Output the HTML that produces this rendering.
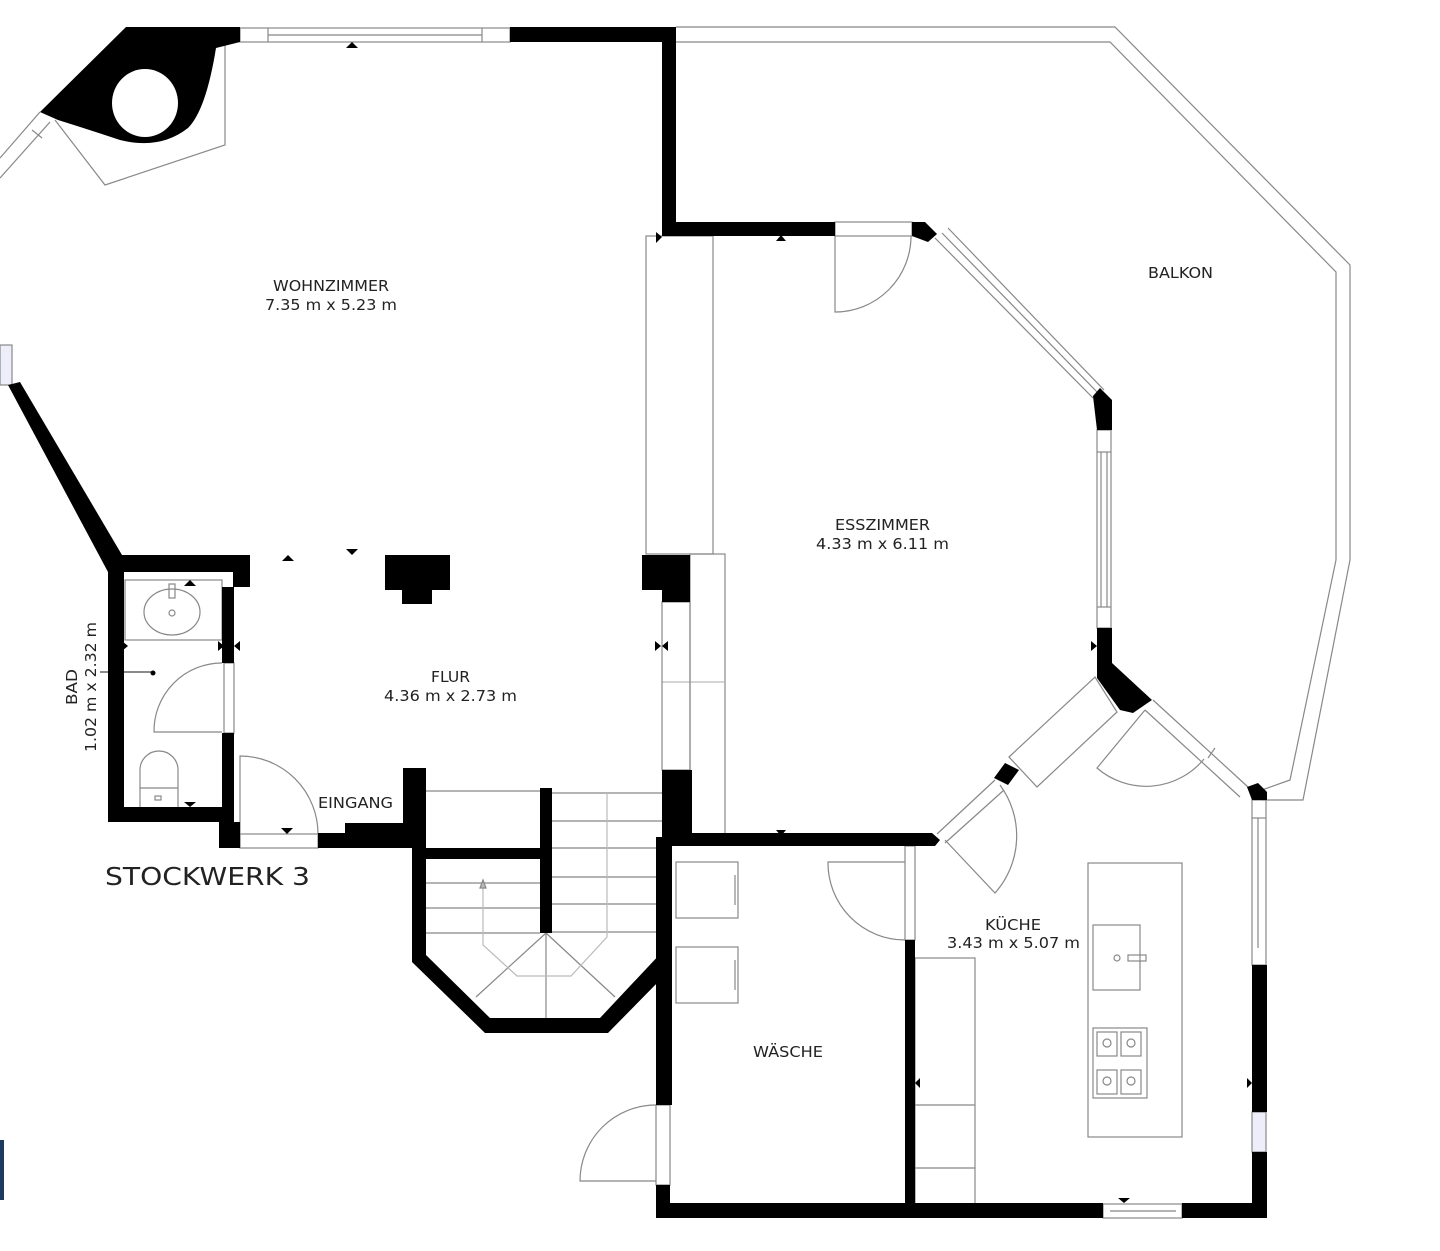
<!DOCTYPE html>
<html><head><meta charset="utf-8"><style>
html,body{margin:0;padding:0;background:#fff;}
svg{display:block;}
text{font-family:"DejaVu Sans","Liberation Sans",sans-serif;fill:#222;}
</style></head><body>
<svg width="1440" height="1251" viewBox="0 0 1440 1251" xmlns="http://www.w3.org/2000/svg">
<rect width="1440" height="1251" fill="#fff"/>
<g fill="none" stroke="#888" stroke-width="1.2">
  <polyline points="676,27 1115,27 1350,265 1350,560 1303,800 1262,800"/>
  <polyline points="676,42 1110,42 1336,272 1336,560 1290,780 1262,790"/>
  <rect x="240" y="28" width="270" height="14"/>
  <line x1="268" y1="28" x2="268" y2="42"/><line x1="482" y1="28" x2="482" y2="42"/>
  <line x1="268" y1="35" x2="482" y2="35"/>
  <polyline points="55,120 105,185 225,145 225,42"/>
  <line x1="40" y1="112" x2="0" y2="158"/><line x1="50" y1="122" x2="0" y2="178"/>
  <line x1="32" y1="130" x2="42" y2="138"/>
  <rect x="0" y="345" width="12" height="40" fill="#eeeefa"/>
  <rect x="646" y="236" width="67" height="318"/>
  <rect x="690" y="554" width="35" height="281"/>
  <line x1="662" y1="682" x2="725" y2="682" stroke="#bbb"/>
  <path d="M835,236 L835,312 A76,76 0 0 0 911,236"/>
  <rect x="835" y="222" width="77" height="14"/>
  <line x1="948" y1="228" x2="1104" y2="390"/>
  <line x1="935" y1="238" x2="1093" y2="398"/>
  <line x1="942" y1="233" x2="1099" y2="394"/>
  <rect x="1097" y="430" width="14" height="198"/>
  <line x1="1101" y1="452" x2="1101" y2="607"/><line x1="1107" y1="452" x2="1107" y2="607"/>
  <line x1="1097" y1="452" x2="1111" y2="452"/><line x1="1097" y1="607" x2="1111" y2="607"/>
  <rect x="662" y="602" width="28" height="168"/>
  <polygon points="1009,757 1095,677 1117,712 1037,787"/>
  <line x1="995" y1="780" x2="937" y2="834"/><line x1="1004" y1="790" x2="945" y2="843"/>
  <path d="M1000,785 A86,86 0 0 1 995,893 L945,840"/>
  <path d="M1145,710 L1097,768 A75,75 0 0 0 1204,759"/>
  <line x1="1153" y1="700" x2="1248" y2="787"/><line x1="1145" y1="710" x2="1240" y2="797"/>
  <line x1="1215" y1="748" x2="1208" y2="758"/>
  <rect x="1252" y="800" width="14" height="165"/>
  <line x1="1258" y1="818" x2="1258" y2="948"/>
  <line x1="1252" y1="818" x2="1266" y2="818"/>
  <rect x="1252" y="1112" width="14" height="40" fill="#eeeefa"/>
  <rect x="1103" y="1204" width="79" height="14"/>
  <line x1="1110" y1="1211" x2="1176" y2="1211"/>
  <rect x="1088" y="863" width="94" height="274"/>
  <rect x="1093" y="925" width="47" height="65"/>
  <circle cx="1117" cy="958" r="3"/><rect x="1128" y="955" width="18" height="6"/>
  <rect x="1093" y="1028" width="54" height="70"/>
  <rect x="1097" y="1032" width="20" height="24"/><rect x="1121" y="1032" width="20" height="24"/>
  <rect x="1097" y="1070" width="20" height="24"/><rect x="1121" y="1070" width="20" height="24"/>
  <circle cx="1107" cy="1043" r="4"/><circle cx="1131" cy="1043" r="4"/>
  <circle cx="1107" cy="1081" r="4"/><circle cx="1131" cy="1081" r="4"/>
  <rect x="915" y="958" width="60" height="246"/>
  <line x1="915" y1="1105" x2="975" y2="1105"/><line x1="915" y1="1168" x2="975" y2="1168"/>
  <path d="M905,862 L828,862 A77,77 0 0 0 905,940"/>
  <rect x="905" y="846" width="10" height="94"/>
  <rect x="676" y="862" width="62" height="56"/><rect x="676" y="947" width="62" height="56"/>
  <line x1="735" y1="875" x2="735" y2="905"/><line x1="735" y1="960" x2="735" y2="990"/>
  <path d="M656,1105 A76,76 0 0 0 580,1181 L656,1181"/>
  <rect x="656" y="1105" width="14" height="80"/>
  <rect x="125" y="580" width="97" height="60"/>
  <ellipse cx="172" cy="612" rx="28" ry="23"/>
  <rect x="169" y="584" width="6" height="14"/><circle cx="172" cy="613" r="3"/>
  <path d="M222,663 A68,68 0 0 0 154,732 L222,732"/>
  <rect x="224" y="663" width="10" height="70"/>
  <path d="M140,807 L140,770 A19,19 0 0 1 178,770 L178,807"/>
  <line x1="140" y1="788" x2="178" y2="788"/>
  <rect x="155" y="796" width="6" height="4"/>
  <line x1="100" y1="672" x2="152" y2="672" stroke="#444"/>
  <path d="M240,848 L240,756 A78,78 0 0 1 318,834"/>
  <rect x="240" y="834" width="78" height="14"/>
  <line x1="426" y1="791" x2="540" y2="791"/>
  <line x1="426" y1="883" x2="540" y2="883"/><line x1="426" y1="908" x2="540" y2="908"/><line x1="426" y1="933" x2="540" y2="933"/>
  <line x1="552" y1="793" x2="662" y2="793"/><line x1="552" y1="821" x2="662" y2="821"/><line x1="552" y1="848" x2="662" y2="848"/>
  <line x1="552" y1="877" x2="662" y2="877"/><line x1="552" y1="904" x2="662" y2="904"/><line x1="552" y1="932" x2="662" y2="932"/>
  <line x1="546" y1="933" x2="476" y2="997"/><line x1="546" y1="933" x2="546" y2="1018"/><line x1="546" y1="933" x2="615" y2="997"/>
  <polyline points="483,886 483,945 517,976 571,976 607,937 607,793" stroke="#bbb"/>
  <polygon points="483,880 480,888 486,888" fill="#bbb"/>
</g>
<g fill="#000">
  <path fill-rule="evenodd" d="M126,27 L240,27 L240,42 L216,48 Q206,110 188,128 Q160,150 120,140 Q90,130 58,120 L40,112 Z M145,103 m-33,0 a33,34 0 1 0 66,0 a33,34 0 1 0 -66,0 Z"/>
  <rect x="510" y="27" width="166" height="15"/>
  <rect x="662" y="27" width="14" height="209"/>
  <rect x="662" y="222" width="173" height="14"/>
  <polygon points="912,222 925,222 937,234 928,242 912,236"/>
  <polygon points="1093,396 1100,388 1112,400 1112,430 1097,430"/>
  <polygon points="1097,628 1112,628 1112,663 1152,700 1133,713 1120,710 1097,678"/>
  <polygon points="994,778 1005,763 1019,770 1008,785"/>
  <polygon points="1247,787 1258,783 1267,792 1267,800 1252,800"/>
  <rect x="1252" y="965" width="15" height="147"/>
  <rect x="1252" y="1152" width="15" height="66"/>
  <rect x="656" y="1203" width="447" height="15"/>
  <rect x="1182" y="1203" width="85" height="15"/>
  <polygon points="670,833 932,833 940,840 935,846 670,846"/>
  <rect x="905" y="940" width="10" height="264"/>
  <rect x="656" y="837" width="16" height="268"/>
  <rect x="656" y="1185" width="14" height="33"/>
  <rect x="662" y="770" width="30" height="67"/>
  <polygon points="8,385 20,382 122,555 108,572"/>
  <rect x="108" y="555" width="142" height="17"/>
  <rect x="233" y="555" width="17" height="32"/>
  <rect x="108" y="555" width="16" height="267"/>
  <rect x="108" y="807" width="126" height="15"/>
  <rect x="222" y="587" width="12" height="76"/>
  <rect x="222" y="733" width="12" height="115"/>
  <rect x="219" y="822" width="21" height="26"/>
  <rect x="318" y="833" width="30" height="15"/>
  <rect x="345" y="823" width="60" height="25"/>
  <rect x="403" y="768" width="23" height="80"/>
  <rect x="385" y="555" width="65" height="35"/><rect x="402" y="588" width="30" height="16"/>
  <rect x="642" y="555" width="48" height="35"/><rect x="662" y="588" width="28" height="14"/>
  <rect x="426" y="848" width="124" height="11"/>
  <rect x="540" y="788" width="12" height="145"/>
  <polygon points="412,848 426,848 426,955 490,1018 600,1018 662,952 662,978 608,1033 485,1033 412,962"/>
  <polygon points="346,48 352,42 358,48"/><polygon points="282,561 288,555 294,561"/>
  <polygon points="346,549 352,555 358,549"/><polygon points="184,586 190,580 196,586"/>
  <polygon points="184,802 190,807 196,802"/><polygon points="281,828 287,834 293,828"/>
  <polygon points="776,241 781,235 786,241"/><polygon points="776,830 781,836 786,830"/>
  <polygon points="1118,1198 1124,1203 1130,1198"/>
  <polygon points="656,232 662,237 656,243"/>
  <polygon points="920,1078 915,1083 920,1088"/><polygon points="1247,1078 1252,1083 1247,1088"/>
  <polygon points="655,641 661,646 655,651"/><polygon points="668,641 662,646 668,651"/>
  <polygon points="1091,641 1097,646 1091,651"/>
  <polygon points="122,641 128,646 122,651"/><polygon points="218,641 224,646 218,651"/><polygon points="240,641 234,646 240,651"/>
  <circle cx="153" cy="673" r="2.5"/>
  <rect x="0" y="1140" width="4" height="60" fill="#1e3a5f"/>
</g>
<g font-size="15" lengthAdjust="spacingAndGlyphs">
  <text x="273" y="291" textLength="116" lengthAdjust="spacingAndGlyphs">WOHNZIMMER</text>
  <text x="265" y="310" textLength="132" lengthAdjust="spacingAndGlyphs">7.35 m x 5.23 m</text>
  <text x="835" y="530" textLength="95" lengthAdjust="spacingAndGlyphs">ESSZIMMER</text>
  <text x="816" y="549" textLength="133" lengthAdjust="spacingAndGlyphs">4.33 m x 6.11 m</text>
  <text x="1148" y="278" textLength="65" lengthAdjust="spacingAndGlyphs">BALKON</text>
  <text x="431" y="682" textLength="39" lengthAdjust="spacingAndGlyphs">FLUR</text>
  <text x="384" y="701" textLength="133" lengthAdjust="spacingAndGlyphs">4.36 m x 2.73 m</text>
  <text x="318" y="808" textLength="75" lengthAdjust="spacingAndGlyphs">EINGANG</text>
  <text x="985" y="930" textLength="56" lengthAdjust="spacingAndGlyphs">KÜCHE</text>
  <text x="947" y="948" textLength="133" lengthAdjust="spacingAndGlyphs">3.43 m x 5.07 m</text>
  <text x="753" y="1057" textLength="70" lengthAdjust="spacingAndGlyphs">WÄSCHE</text>
  <text transform="translate(77,705) rotate(-90)" textLength="36" lengthAdjust="spacingAndGlyphs">BAD</text>
  <text transform="translate(96,752) rotate(-90)" textLength="130" lengthAdjust="spacingAndGlyphs">1.02 m x 2.32 m</text>
</g>
<text x="105" y="885" font-size="25" textLength="205" lengthAdjust="spacingAndGlyphs">STOCKWERK 3</text>
</svg>
</body></html>
